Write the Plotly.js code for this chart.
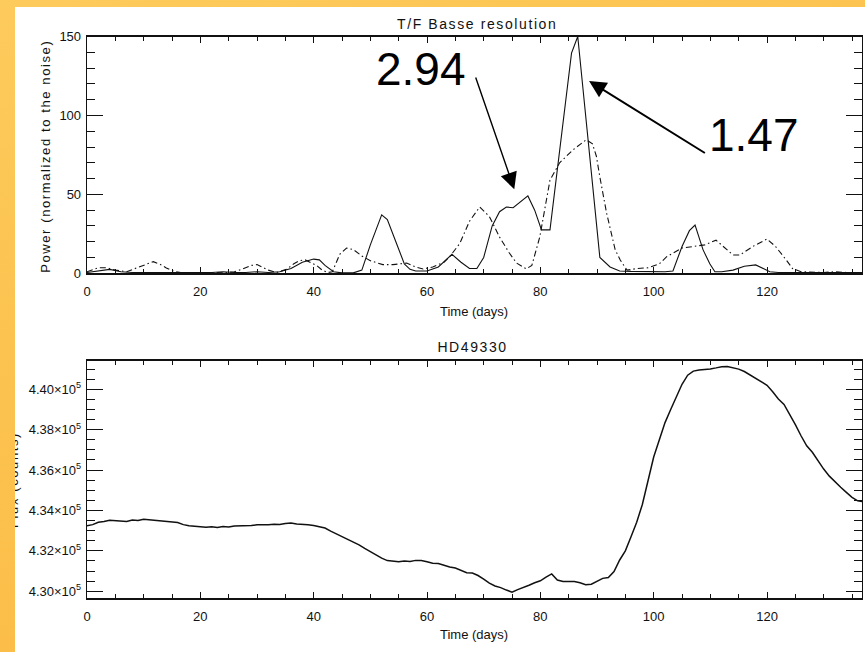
<!DOCTYPE html>
<html>
<head>
<meta charset="utf-8">
<script src="https://cdn.plot.ly/plotly-3.0.1.min.js"></script>
<style>
  html, body { margin:0; padding:0; width:865px; height:652px; overflow:hidden;
    background: linear-gradient(160deg, #FDCB5C 0%, #FCC350 35%, #FBB942 100%); }
  #chart { position:absolute; left:15px; top:7px; width:850px; height:645px; background:#fff; overflow:hidden; }
  g.annotation[data-index="0"] text, g.annotation[data-index="1"] text { letter-spacing:1.6px; }
  g.annotation[data-index="4"] text, g.annotation[data-index="5"] text { letter-spacing:1.6px; }
</style>
</head>
<body>
<div id="chart"></div>
<script>
// ---- Top panel: T/F power (normalized to the noise) ----
const solidTime  = [0,2,4,6,8,10,12,14,16,18,20,22,24,26,28,30,32,34,36,38,40,41,42,43.5,45,47,48.5,50,52,53,54.5,56,57,58,60,62,64.4,66,67.5,68.8,70,71.5,72.8,74,75.2,77.8,79,80.2,81.7,85.5,86.6,90.5,92.3,94,96,98,100,102,103.4,105,106.3,107.3,108.7,109.9,110.8,112,114,116,118,119.5,120.5,122,125,128,130,133,136.8];
const solidPower = [0.5,1.5,2.5,1,0.5,0.5,0.5,0.5,0.3,0.5,0.3,0.5,1,0.5,0.5,1,0.5,1,3,7,9,8.5,5,1,0.3,0.3,2,18,37,34,20,6,2.5,1.5,1.5,4,12,7,3,3,10,30,39,42,41.5,49,40,27.5,27.5,139.5,150,10,4,1.5,1.2,1,1.2,1,1.5,17,27,30.6,15,6,1,1,2,4.5,5.3,3,1,0.5,0.5,0.3,0.5,0.3,0.5];

const dashTime  = [0,1,2,3.5,5,7,8.8,10.5,11.7,13,14,15.5,17,20,22,24,26,27.3,29,30,31,32,33.5,35.2,36.5,37.5,38.5,39.5,40.5,41.5,42.5,43.3,44.6,45.8,47,48.5,50,52.2,54,56.4,58,59.3,61,63,64,65.8,67.5,69.3,71,72.8,74.5,75.8,77.5,78.5,79.9,81,81.7,83.4,85.7,88.1,89.2,89.9,90.5,91.7,92.3,93.2,94.1,95.3,97,99,101,102.3,105,107.5,109,111,112.5,114,115.2,117.5,120,121.5,123.4,124.5,126,128,130,132,134,136.8];
const dashPower = [1,2.5,3.5,3.5,2,1,3.4,6,7.4,5.5,3.4,1,0.3,0.2,0.5,0.3,1,2.5,5,5.5,4,2,0.5,2.5,6,8,8.5,7,5,2,0.5,1,12,16,15,11,8,5.5,5.5,6.5,4,2.7,4,7,10.5,19,33,42,36,23,13,6.5,2.8,5,23,45,59,70,78,84.6,82,74,61,38,29.5,15,8.4,2,3,3.5,6,10.5,16,17.3,18,21,16,11.6,11.6,17,21.7,17,8.4,3,1,0.8,0.5,1,0.5,0.5];

// ---- Bottom panel: HD49330 flux ----
const fluxTime = [0,1,2,3,4,5,6,7,8,9,10,11,12,13,14,15,16,17,18,19,20,21,22,23,24,25,26,27,28,29,30,31,32,33,34,35,36,37,38,39,40,41,42,43,44,45,46,47,48,49,50,51,52,53,54,55,56,57,58,59,60,61,62,63,64,65,66,67,68,69,70,71,72,73,74,75,76,77,78,79,80,81,82,83,84,85,86,87,88,89,90,91,92,93,94,95,96,97,98,99,100,101,102,103,104,105,106,107,108,109,110,111,112,113,114,115,116,117,118,119,120,121,122,123,124,125,126,127,128,129,130,131,132,133,134,135,136,136.8];
const fluxCounts = [433250,433300,433420,433450,433520,433500,433480,433460,433530,433500,433570,433540,433520,433480,433460,433420,433400,433300,433240,433220,433180,433170,433200,433160,433210,433180,433230,433240,433220,433260,433290,433280,433300,433320,433310,433350,433380,433330,433320,433290,433260,433200,433130,432980,432850,432700,432580,432420,432300,432120,431950,431780,431640,431520,431480,431460,431500,431470,431530,431520,431460,431390,431380,431280,431200,431150,431050,430920,430900,430780,430600,430400,430260,430180,430060,429960,430080,430180,430300,430420,430520,430700,430860,430560,430480,430490,430480,430420,430320,430350,430500,430640,430680,430980,431550,432000,432700,433420,434300,435500,436650,437500,438350,439000,439650,440250,440700,440900,440960,440980,441010,441060,441120,441130,441080,441000,440880,440720,440560,440360,440200,439880,439520,439250,438760,438250,437700,437200,436880,436450,436050,435700,435400,435150,434900,434650,434480,434440];

const fluxTickVals = [430000,432000,434000,436000,438000,440000];
const fluxTickText = ['4.30×10<sup>5</sup>','4.32×10<sup>5</sup>','4.34×10<sup>5</sup>','4.36×10<sup>5</sup>','4.38×10<sup>5</sup>','4.40×10<sup>5</sup>'];

const FONT = 'Liberation Sans, Arial, sans-serif';
const INK = '#111';

const traces = [
  {x: solidTime, y: solidPower, xaxis:'x', yaxis:'y', mode:'lines', line:{color:INK, width:1.1}, hoverinfo:'skip'},
  {x: dashTime, y: dashPower, xaxis:'x', yaxis:'y', mode:'lines', line:{color:INK, width:1.1, dash:'6px,3px,1.5px,3px'}, hoverinfo:'skip'},
  {x: fluxTime, y: fluxCounts, xaxis:'x2', yaxis:'y2', mode:'lines', line:{color:INK, width:1.5}, hoverinfo:'skip'}
];

function xAxis(anchor) {
  return {anchor: anchor, domain:[0,1], range:[0,136.76], tick0:0, dtick:20,
    ticks:'inside', ticklen:6, tickwidth:1, tickcolor:INK, mirror:'ticks',
    showline:true, linewidth:1.3, linecolor:INK, showgrid:false, zeroline:false,
    minor:{dtick:5, tick0:0, ticks:'inside', ticklen:4, tickwidth:1, tickcolor:INK, showgrid:false},
    tickfont:{family:FONT, size:13, color:INK}, ticklabelstandoff:6, fixedrange:true};
}

const layout = {
  width:850, height:645,
  margin:{l:72, r:3, t:0, b:0},
  paper_bgcolor:'#ffffff', plot_bgcolor:'#ffffff',
  showlegend:false,
  font:{family:FONT, color:INK},
  xaxis: xAxis('y'),
  xaxis2: xAxis('y2'),
  yaxis: {domain:[0.58713,0.95426], range:[0,150], tick0:0, dtick:50,
    ticks:'inside', ticklen:16, tickwidth:1, tickcolor:INK, mirror:'ticks',
    showline:true, linewidth:1.3, linecolor:INK, showgrid:false, zeroline:false,
    minor:{dtick:10, tick0:0, ticks:'inside', ticklen:8, tickwidth:1, tickcolor:INK, showgrid:false},
    tickfont:{family:FONT, size:13, color:INK}, ticklabelstandoff:2, fixedrange:true},
  yaxis2: {domain:[0.08326,0.45163], range:[429653,441416], tickmode:'array',
    tickvals: fluxTickVals, ticktext: fluxTickText,
    ticks:'inside', ticklen:16, tickwidth:1, tickcolor:INK, mirror:'ticks',
    showline:true, linewidth:1.3, linecolor:INK, showgrid:false, zeroline:false,
    minor:{tickmode:'linear', dtick:500, tick0:430000, ticks:'inside', ticklen:8, tickwidth:1, tickcolor:INK, showgrid:false},
    tickfont:{family:FONT, size:13, color:INK}, ticklabelstandoff:2, fixedrange:true},
  annotations: [
    {text:'T/F Basse resolution', xref:'paper', yref:'paper', x:0.503, y:0.97364, xanchor:'center', yanchor:'middle', showarrow:false, font:{family:FONT, size:14, color:INK}},
    {text:'HD49330', xref:'paper', yref:'paper', x:0.4968, y:0.47287, xanchor:'center', yanchor:'middle', showarrow:false, font:{family:FONT, size:14, color:INK}},
    {text:'Time (days)', xref:'paper', yref:'paper', x:0.4994, y:0.52868, xanchor:'center', yanchor:'middle', showarrow:false, font:{family:FONT, size:13, color:INK}},
    {text:'Time (days)', xref:'paper', yref:'paper', x:0.4994, y:0.02636, xanchor:'center', yanchor:'middle', showarrow:false, font:{family:FONT, size:13, color:INK}},
    {text:'Power (normalized to the noise)', xref:'paper', yref:'paper', x:-0.05419, y:0.76899, xanchor:'center', yanchor:'middle', textangle:-90, showarrow:false, font:{family:FONT, size:13, color:INK}},
    {text:'Flux (counts)', xref:'paper', yref:'paper', x:-0.0948, y:0.26667, xanchor:'center', yanchor:'middle', textangle:-90, showarrow:false, font:{family:FONT, size:13, color:INK}},
    {text:'2.94', xref:'x', yref:'y', x:58.9, y:129.7, xanchor:'center', yanchor:'middle', showarrow:false, font:{family:'Liberation Sans, Arial, sans-serif', size:46, color:'#000'}},
    {text:'1.47', xref:'x', yref:'y', x:117.75, y:87.6, xanchor:'center', yanchor:'middle', showarrow:false, font:{family:'Liberation Sans, Arial, sans-serif', size:46, color:'#000'}},
    {text:'', xref:'x', yref:'y', x:75.4, y:53.2, axref:'x', ayref:'y', ax:68.5, ay:125, showarrow:true, arrowhead:2, arrowsize:2.4, arrowwidth:1.4, arrowcolor:'#000', standoff:0, startstandoff:0},
    {text:'', xref:'x', yref:'y', x:88.6, y:121.8, axref:'x', ayref:'y', ax:109.3, ay:75.6, showarrow:true, arrowhead:2, arrowsize:1.7, arrowwidth:2, arrowcolor:'#000', standoff:0, startstandoff:0}
  ]
};

Plotly.newPlot('chart', traces, layout, {displayModeBar:false, staticPlot:true});
</script>
</body>
</html>
